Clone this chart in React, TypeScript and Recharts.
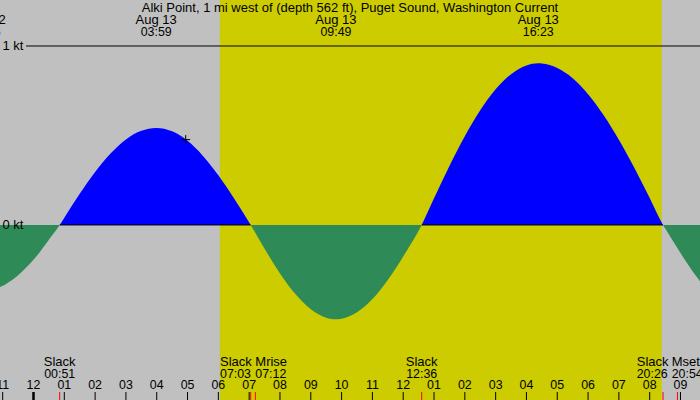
import {
  ComposedChart,
  Area,
  XAxis,
  YAxis,
  ReferenceArea,
  ReferenceLine,
  ReferenceDot,
} from "recharts";

// hours since midnight Aug 13 and current speed (kt), flood > 0, ebb < 0
const hours = [
  -1.57, -1.087, -0.5, 0, 0.5, 0.85, 1, 1.5, 2, 2.5, 3, 3.5, 3.983, 4.5, 5, 5.5,
  6, 6.5, 7.05, 7.5, 8, 8.5, 9, 9.5, 9.817, 10, 10.5, 11, 11.5, 12, 12.6, 13,
  13.5, 14, 14.5, 15, 15.5, 16, 16.383, 16.5, 17, 17.5, 18, 18.5, 19, 19.5, 20,
  20.433, 20.5, 21, 21.5, 22, 23.4,
];
const speeds = [
  -0.365, -0.347, -0.281, -0.195, -0.082, 0, 0.041, 0.174, 0.296, 0.399, 0.478,
  0.526, 0.542, 0.523, 0.47, 0.386, 0.278, 0.151, 0, -0.133, -0.271, -0.386,
  -0.471, -0.518, -0.527, -0.524, -0.488, -0.414, -0.307, -0.176, 0, 0.149, 0.33,
  0.496, 0.641, 0.758, 0.842, 0.891, 0.903, 0.902, 0.877, 0.82, 0.731, 0.615,
  0.476, 0.32, 0.151, 0, -0.019, -0.157, -0.284, -0.391, -0.53,
];

const hourTicks = [
  -1, 0, 1, 2, 3, 4, 5, 6, 7, 8, 9, 10, 11, 12, 13, 14, 15, 16, 17, 18, 19, 20, 21,
];
const hourLabels = [
  "11", "12", "01", "02", "03", "04", "05", "06", "07", "08", "09", "10",
  "11", "12", "01", "02", "03", "04", "05", "06", "07", "08", "09",
];

// max current events (labels at top)
const peakHours = [-1.57, 3.983, 9.817, 16.383];
const peakDates = ["Aug 12", "Aug 13", "Aug 13", "Aug 13"];
const peakTimes = ["22:26", "03:59", "09:49", "16:23"];

// slack / moon events (labels at bottom)
const eventHours = [0.85, 7.05, 7.2, 12.6, 20.433, 20.9];
const eventNames = ["Slack", "Slack", "Mrise", "Slack", "Slack", "Mset"];
const eventTimes = ["00:51", "07:03", "07:12", "12:36", "20:26", "20:54"];

const floodSpans = [
  [0.85, 7.05],
  [12.6, 20.433],
];

const sunrise = 6.05;
const sunset = 20.39;
const nowMarker = { h: 4.94, v: 0.477 };

const title =
  "Alki Point, 1 mi west of (depth 562 ft), Puget Sound, Washington Current";

const data = hours.map((h, i) => ({ h, v: speeds[i] }));

// label placement tweaks (px)
const eventAnchor = ["middle", "start", "start", "middle", "start", "start"];
const eventDx = [0, -30.7, 0, 0, -26.3, -5.7];

const FONT = "'Liberation Sans', Arial, sans-serif";
const FS = 13; // words
const FN = 12.4; // numbers

const bottomOf = (p: any) => Math.max(p.y1, p.y2);
const topOf = (p: any) => Math.min(p.y1, p.y2);

export default function App() {
  return (
    <div
      style={{
        position: "absolute",
        left: 0,
        top: 0,
        width: 700,
        height: 400,
        background: "#c0c0c0",
      }}
    >
      <ComposedChart
        width={700}
        height={400}
        data={data}
        margin={{ top: 0, right: 0, bottom: 0, left: 0 }}
      >
        <defs>
          <linearGradient id="flowFill" gradientUnits="userSpaceOnUse" x1="0" y1="0" x2="0" y2="400">
            <stop offset="0.5625" stopColor="#0000ff" />
            <stop offset="0.5625" stopColor="#2e8b57" />
          </linearGradient>
        </defs>
        <XAxis
          dataKey="h"
          type="number"
          domain={[-1.0873, 21.633]}
          allowDataOverflow
          hide
        />
        <YAxis type="number" domain={[-0.978, 1.257]} allowDataOverflow hide />

        <ReferenceArea
          x1={sunrise}
          x2={sunset}
          fill="#cccc00"
          fillOpacity={1}
          stroke="none"
        />

        <Area
          dataKey="v"
          type="monotone"
          baseValue={0}
          fill="url(#flowFill)"
          fillOpacity={1}
          stroke="none"
          dot={false}
          activeDot={false}
          isAnimationActive={false}
        />

        {floodSpans.map(([a, b], i) => (
          <ReferenceLine
            key={"z" + i}
            segment={[
              { x: a, y: 0 },
              { x: b, y: 0 },
            ]}
            stroke="#000"
            strokeWidth={1}
          />
        ))}

        <ReferenceLine
          y={1}
          shape={(p: any) => {
            const l = Math.min(p.x1, p.x2);
            const r = Math.max(p.x1, p.x2);
            return (
              <g>
                <line x1={l + 26} x2={r} y1={p.y1} y2={p.y1} stroke="#000" />
                <text x={l + 2.5} y={p.y1 + 4} fontFamily={FONT} fontSize={FS} fill="#000">
                  1 kt
                </text>
                <text
                  x={(l + r) / 2}
                  y={12}
                  textAnchor="middle"
                  fontFamily={FONT}
                  fontSize={FS}
                  fill="#000"
                >
                  {title}
                </text>
              </g>
            );
          }}
        />
        <ReferenceLine
          y={0}
          shape={(p: any) => (
            <text
              x={Math.min(p.x1, p.x2) + 2.5}
              y={p.y1 + 4}
              fontFamily={FONT}
              fontSize={FS}
              fill="#000"
            >
              0 kt
            </text>
          )}
        />

        {hourTicks.map((h, i) => (
          <ReferenceLine
            key={"t" + h}
            x={h}
            shape={(p: any) => {
              const b = bottomOf(p);
              return (
                <g>
                  <line
                    x1={p.x1}
                    x2={p.x1}
                    y1={b - 8}
                    y2={b}
                    stroke="#000"
                    strokeWidth={h === 0 ? 2.5 : 1}
                  />
                  <text
                    x={p.x1}
                    y={b - 11}
                    textAnchor="middle"
                    fontFamily={FONT}
                    fontSize={FN}
                    fill="#000"
                  >
                    {hourLabels[i]}
                  </text>
                </g>
              );
            }}
          />
        ))}

        {eventHours.map((h, i) => (
          <ReferenceLine
            key={"e" + i}
            x={h}
            shape={(p: any) => {
              const b = bottomOf(p);
              const tx = p.x1 + eventDx[i];
              return (
                <g>
                  <line x1={p.x1} x2={p.x1} y1={b - 8} y2={b} stroke="#ff0000" />
                  <text
                    x={tx}
                    y={b - 34}
                    textAnchor={eventAnchor[i]}
                    fontFamily={FONT}
                    fontSize={FS}
                    fill="#000"
                  >
                    {eventNames[i]}
                  </text>
                  <text
                    x={tx}
                    y={b - 22}
                    textAnchor={eventAnchor[i]}
                    fontFamily={FONT}
                    fontSize={FN}
                    fill="#000"
                  >
                    {eventTimes[i]}
                  </text>
                </g>
              );
            }}
          />
        ))}

        {peakHours.map((h, i) => (
          <ReferenceLine
            key={"p" + i}
            x={h}
            ifOverflow="visible"
            shape={(p: any) => {
              const t = topOf(p);
              return (
                <g>
                  <text x={p.x1} y={t + 24} textAnchor="middle" fontFamily={FONT} fontSize={FS} fill="#000">
                    {peakDates[i]}
                  </text>
                  <text x={p.x1} y={t + 36} textAnchor="middle" fontFamily={FONT} fontSize={FN} fill="#000">
                    {peakTimes[i]}
                  </text>
                </g>
              );
            }}
          />
        ))}

        <ReferenceDot
          x={nowMarker.h}
          y={nowMarker.v}
          shape={(p: any) => (
            <g>
              <line x1={p.cx - 4.5} x2={p.cx + 4.5} y1={p.cy} y2={p.cy} stroke="#000" />
              <line x1={p.cx} x2={p.cx} y1={p.cy - 4.5} y2={p.cy + 4.5} stroke="#000" />
            </g>
          )}
        />
      </ComposedChart>
    </div>
  );
}
